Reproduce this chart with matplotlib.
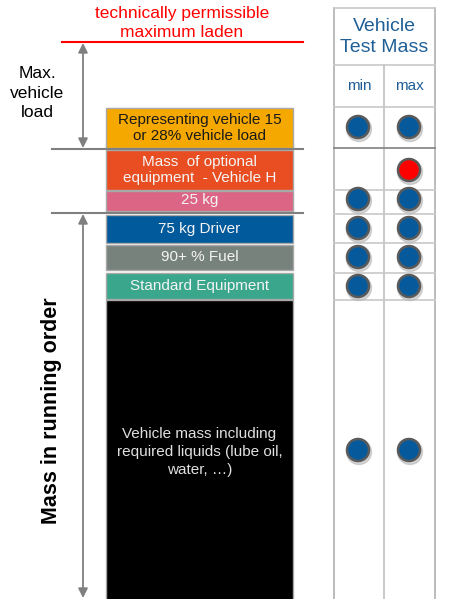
import matplotlib.pyplot as plt
from matplotlib.patches import Circle

plt.rcParams['font.family'] = ['Liberation Sans', 'DejaVu Sans']

# stacked mass components, top to bottom (vertical extent in layout units)
labels = ['Representing vehicle 15\nor 28% vehicle load',
          'Mass  of optional\nequipment  - Vehicle H',
          '25 kg', '75 kg Driver', '90+ % Fuel', 'Standard Equipment',
          'Vehicle mass including\nrequired liquids (lube oil,\nwater, \u2026)']
tops = [108, 150, 191, 215, 245, 273, 300]
bottoms = [148, 190, 211, 243, 270, 299, 600]
colors = ['#f5a800', '#e84e22', '#dc6585', '#005a9b', '#77827d', '#3aa68c', '#000000']
text_colors = ['#1a1a1a', '#f4f4f4', '#f4f4f4', '#f4f4f4', '#f4f4f4', '#f4f4f4', '#e0e0e0']
text_y = [128, 170, 200, 229, 257, 286, 452]
text_spacing = [1.25, 1.25, 1.2, 1.2, 1.2, 1.2, 1.35]

# vehicle test mass table: which component is included (0 none, 1 yes, 2 optional)
in_min = [1, 0, 1, 1, 1, 1, 1]
in_max = [1, 2, 1, 1, 1, 1, 1]
row_lines = [8, 65, 107, 148, 190, 214, 243, 273, 300]
dot_y = [127, 170, 199, 228, 257, 286, 450]

fig = plt.figure(figsize=(4.58, 5.99), dpi=100)
ax = fig.add_axes([0, 0, 1, 1])
ax.set_xlim(0, 458)
ax.set_ylim(599, 0)
ax.axis('off')

# stack of blocks
x0, x1 = 106, 293
for lab, t, b, c, tc, ty, ls in zip(labels, tops, bottoms, colors, text_colors,
                                     text_y, text_spacing):
    ax.bar((x0 + x1) / 2, b - t, bottom=t, width=x1 - x0, color=c,
           edgecolor='#a8a8a8', linewidth=1, zorder=2)
    ax.text((x0 + x1) / 2, ty, lab, ha='center', va='center', color=tc,
            fontsize=11, linespacing=ls, zorder=3)

# separators and limit line
ax.plot([52, 303], [149, 149], color='#808080', lw=1.5)
ax.plot([52, 303], [213, 213], color='#808080', lw=1.5)
ax.plot([62, 303], [42, 42], color='#ff0000', lw=1.5)
ax.text(182, 23, 'technically permissible\nmaximum laden', ha='center', va='center',
        color='#ff0000', fontsize=12.5, linespacing=1.3)

# arrows
arrow = dict(arrowstyle='<|-|>', color='#7f7f7f', lw=1.3, mutation_scale=14,
             shrinkA=0, shrinkB=0)
ax.annotate('', xy=(83, 43), xytext=(83, 148), arrowprops=arrow)
ax.annotate('', xy=(83, 214), xytext=(83, 598), arrowprops=arrow)
ax.text(37, 93, 'Max.\nvehicle\nload', ha='center', va='center', fontsize=12.5,
        linespacing=1.4)
ax.text(52, 411, 'Mass in running order', ha='center', va='center', rotation=90,
        fontsize=15.5, fontweight='bold')

# table grid
tx0, tm, tx1 = 334, 384, 435
ax.plot([tx0, tx0], [8, 599], color='#b0b0b0', lw=1.2)
ax.plot([tx1, tx1], [8, 599], color='#b0b0b0', lw=1.2)
ax.plot([tm, tm], [65, 599], color='#c0c0c0', lw=1.2)
for y in row_lines:
    ax.plot([tx0, tx1], [y, y], color='#808080' if y == 148 else '#c8c8c8', lw=1.2)
ax.text((tx0 + tx1) / 2, 37, 'Vehicle\nTest Mass', ha='center', va='center',
        color='#1f5f96', fontsize=14, linespacing=1.25)
ax.text((tx0 + tm) / 2, 86, 'min', ha='center', va='center', color='#1f5f96', fontsize=11)
ax.text((tm + tx1) / 2, 86, 'max', ha='center', va='center', color='#1f5f96', fontsize=11)

# inclusion dots
for col_x, flags in [(358, in_min), (409, in_max)]:
    for f, y in zip(flags, dot_y):
        if f == 0:
            continue
        fc = '#ff0000' if f == 2 else '#065a9c'
        ax.add_patch(Circle((col_x + 1, y + 2), 12.5, color='#b8b8b8', alpha=0.6, zorder=3))
        ax.add_patch(Circle((col_x, y), 11, facecolor=fc, edgecolor='#5a5a5a',
                            linewidth=1.8, zorder=4))

fig.savefig('out.png', dpi=100, facecolor='white')
